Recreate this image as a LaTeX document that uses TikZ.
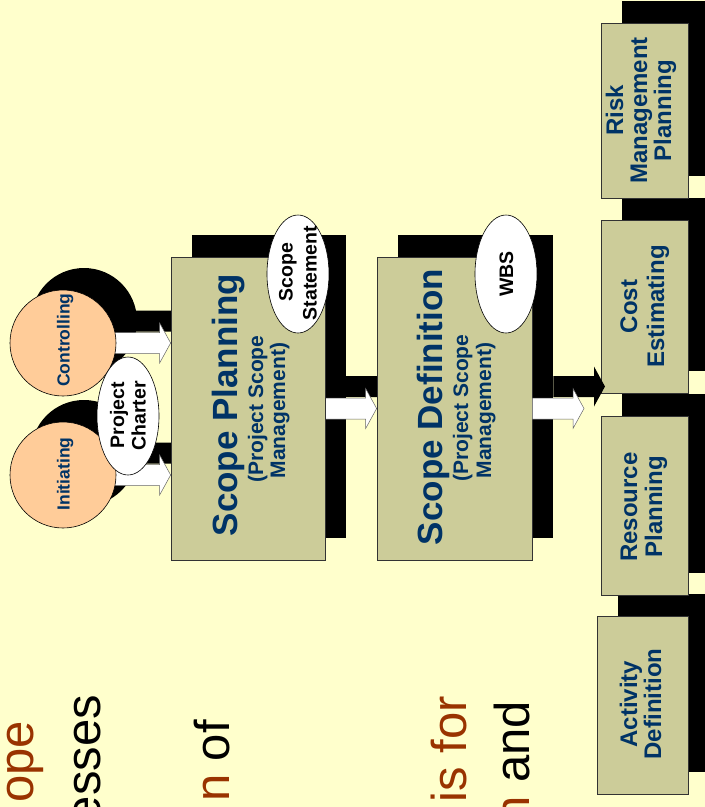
\documentclass[tikz,border=0pt]{standalone}
\usepackage{fontspec}
\setmainfont{Liberation Sans}
\usetikzlibrary{calc,shapes.geometric}
\definecolor{bgy}{RGB}{255,255,204}
\definecolor{khaki}{RGB}{204,204,153}
\definecolor{peach}{RGB}{255,204,153}
\definecolor{navy}{RGB}{0,51,102}
\definecolor{rust}{RGB}{153,51,0}
\pgfdeclarelayer{bgl}
\pgfdeclarelayer{shadowl}
\pgfdeclarelayer{arrowl}
\pgfdeclarelayer{fgl}
\pgfsetlayers{bgl,shadowl,arrowl,main,fgl}
\newcommand\blockarrow[4]{%
  \path[#4] let \p1=($(#1)+(#3)$), \p2=($(#2)+(#3)$) in
    (\x1,{\y1+10.5pt}) -- ({\x2-11pt},{\y2+10.5pt}) -- ({\x2-11pt},{\y2+20pt}) --
    (\x2,\y2) -- ({\x2-11pt},{\y2-20pt}) -- ({\x2-11pt},{\y2-10.5pt}) --
    (\x1,{\y1-10.5pt}) -- cycle;}
\tikzset{
  procbox/.style={rectangle, draw=black!80, line width=0.7pt, fill=khaki, inner sep=0pt},
  phase/.style={circle, draw=black, line width=0.6pt, fill=peach, minimum size=106pt, inner sep=0pt},
  docell/.style={ellipse, draw=black, line width=0.6pt, fill=white, minimum width=62pt, minimum height=118pt, inner sep=0pt},
  vt/.style={rotate=90, anchor=base, inner sep=0pt},
  circtxt/.style={vt, text=navy, font=\bfseries\fontsize{17.5}{20}\selectfont},
  doctxt/.style={vt, text=black, font=\bfseries\fontsize{19.5}{22}\selectfont},
  bigtxt/.style={vt, text=navy, font=\bfseries\fontsize{35}{40}\selectfont},
  subtxt/.style={vt, text=navy, font=\bfseries\fontsize{21}{24}\selectfont},
  smalltxt/.style={vt, text=navy, font=\bfseries\fontsize{24}{28}\selectfont},
  slidetxt/.style={rotate=90, anchor=base east, inner sep=0pt, text=black, font=\fontsize{49}{56}\selectfont},
  whitearr/.style={fill=white, draw=black!60, line width=0.5pt},
  shadarr/.style={fill=black},
  shad/.style={fill=black}
}
\begin{document}
\begin{tikzpicture}[x=1pt,y=-1pt]
\useasboundingbox (0,0) rectangle (705,807);
\begin{pgfonlayer}{bgl}
  \fill[bgy] (0,0) rectangle (705,807);
\end{pgfonlayer}

% phases
\node[phase] (ctrl) at (63,343) {};
\node[phase] (init) at (63,475) {};
% process boxes
\node[procbox, minimum width=154pt, minimum height=303pt] (sp) at (248,408.5) {};
\node[procbox, minimum width=155pt, minimum height=303pt] (sd) at (454.5,408.5) {};
\node[procbox, minimum width=87pt, minimum height=175pt] (risk) at (644.5,110.5) {};
\node[procbox, minimum width=87pt, minimum height=173pt] (cost) at (644.5,306.5) {};
\node[procbox, minimum width=87pt, minimum height=179pt] (res) at (644.5,505.5) {};
\node[procbox, minimum width=91pt, minimum height=178pt] (act) at (642.5,705) {};

\coordinate (ctrltip) at (ctrl.center -| sp.west);
\coordinate (inittip) at (init.center -| sp.west);
\coordinate (outtip) at (584,408.5);

% shadows
\begin{pgfonlayer}{shadowl}
  \fill[shad] ($(ctrl.center)+(21,-22)$) circle (53);
  \fill[shad] ($(init.center)+(21,-22)$) circle (53);
  \foreach \b in {sp,sd,risk,cost,res,act}{
    \fill[shad] ($(\b.south west)+(21,-22)$) rectangle ($(\b.north east)+(21,-22)$);
  }
  \blockarrow{ctrl.center}{ctrltip}{21,-22}{shadarr}
  \blockarrow{init.center}{inittip}{21,-22}{shadarr}
  \blockarrow{sp.center}{sd.west}{21,-22}{shadarr}
\end{pgfonlayer}

% white block arrows
\begin{pgfonlayer}{arrowl}
  \blockarrow{ctrl.center}{ctrltip}{0,0}{whitearr}
  \blockarrow{init.center}{inittip}{0,0}{whitearr}
  \blockarrow{sp.center}{sd.west}{0,0}{whitearr}
\end{pgfonlayer}
\begin{pgfonlayer}{fgl}
  \blockarrow{sd.east}{outtip}{21,-22}{shadarr}
  \blockarrow{sd.east}{outtip}{0,0}{whitearr}
\end{pgfonlayer}

% documents
\node[docell] (charter) at (128,416) {};
\node[docell] (stmt) at (298,274) {};
\node[docell] (wbs) at (506,274) {};

% texts
\node[circtxt] (ctrlt) at (69.5,340) {Controlling};
\node[circtxt] (initt) at (69.5,474) {Initiating};
\node[doctxt] (charter1) at (124,415) {Project};
\node[doctxt] (charter2) at (145.5,416) {Charter};
\node[doctxt] (stmt1) at (292.5,272) {Scope};
\node[doctxt] (stmt2) at (316.5,273) {Statement};
\node[doctxt] (wbst) at (513,274) {WBS};

\node[bigtxt] (spt1) at (237,405) {Scope Planning};
\node[subtxt] (spt2) at (263,409) {(Project Scope};
\node[subtxt] (spt3) at (285,410.5) {Management)};
\node[bigtxt] (sdt1) at (442,407) {Scope Definition};
\node[subtxt] (sdt2) at (468,408) {(Project Scope};
\node[subtxt] (sdt3) at (491,410.5) {Management)};

\node[smalltxt] (riskt1) at (623,110.5) {Risk};
\node[smalltxt] (riskt2) at (647,110.5) {Management};
\node[smalltxt] (riskt3) at (671,110.5) {Planning};
\node[smalltxt] (costt1) at (637,306.5) {Cost};
\node[smalltxt] (costt2) at (664,306.5) {Estimating};
\node[smalltxt] (rest1) at (637,507) {Resource};
\node[smalltxt] (rest2) at (662,507) {Planning};
\node[smalltxt] (actt1) at (637,704) {Activity};
\node[smalltxt] (actt2) at (661,704) {Definition};

% slide text (cut off at the bottom, as in the reference)
\node[slidetxt, text=rust] (l1) at (33,721) {ope};
\node[slidetxt] (l2) at (100,695) {esses};
\node[slidetxt] (l3) at (229,720) {\textcolor{rust}{n} of};
\node[slidetxt, text=rust] (l4) at (466,696) {is for};
\node[slidetxt] (l5) at (529,701) {\textcolor{rust}{n} and};
\end{tikzpicture}
\end{document}
